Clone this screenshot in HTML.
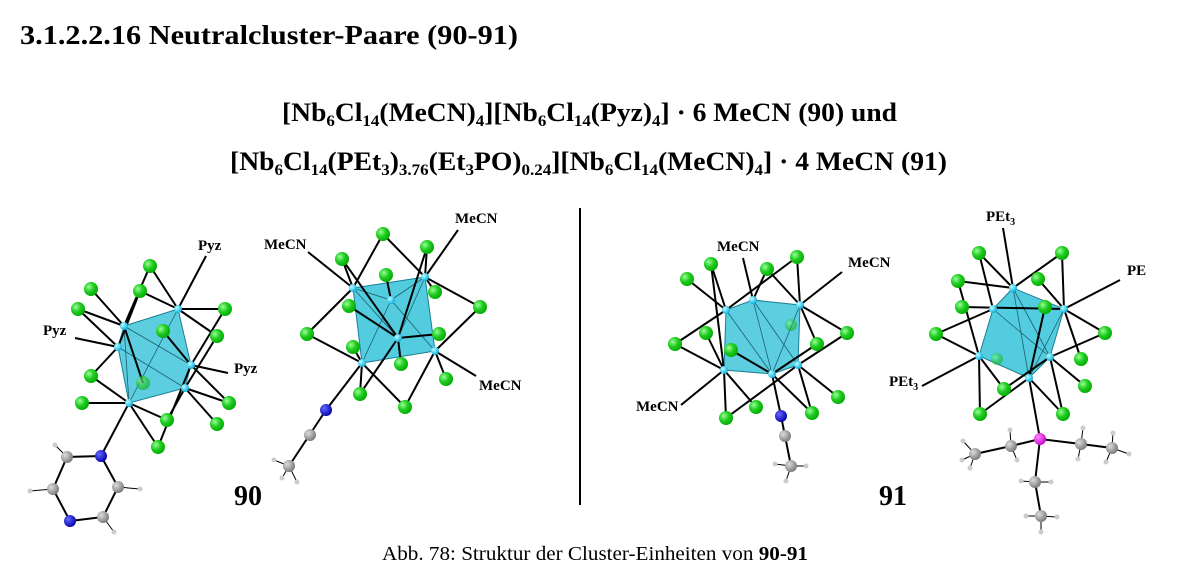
<!DOCTYPE html>
<html><head><meta charset="utf-8"><style>
html,body{margin:0;padding:0;background:#fff;}
svg{display:block;font-family:"Liberation Serif",serif;}
</style></head><body>
<svg width="1177" height="571" viewBox="0 0 1177 571" xmlns="http://www.w3.org/2000/svg">
<defs>
<radialGradient id="g" cx="0.35" cy="0.35" r="0.7"><stop offset="0" stop-color="#9f9"/><stop offset="0.5" stop-color="#2c2"/><stop offset="1" stop-color="#0a0"/></radialGradient>
<radialGradient id="n" cx="0.35" cy="0.35" r="0.7"><stop offset="0" stop-color="#bff"/><stop offset="1" stop-color="#0ad"/></radialGradient>
<radialGradient id="b" cx="0.35" cy="0.35" r="0.7"><stop offset="0" stop-color="#66f"/><stop offset="1" stop-color="#00a"/></radialGradient>
<radialGradient id="c" cx="0.35" cy="0.35" r="0.7"><stop offset="0" stop-color="#ddd"/><stop offset="1" stop-color="#777"/></radialGradient>
<radialGradient id="m" cx="0.35" cy="0.35" r="0.7"><stop offset="0" stop-color="#f8f"/><stop offset="1" stop-color="#c0c"/></radialGradient>
</defs>

<text x="20" y="44" font-size="27" font-weight="bold" textLength="498" lengthAdjust="spacingAndGlyphs">3.1.2.2.16 Neutralcluster-Paare (90-91)</text>

<text x="282" y="121" font-size="26" font-weight="bold" textLength="615" lengthAdjust="spacingAndGlyphs">[Nb<tspan font-size="16" dy="5">6</tspan><tspan dy="-5">Cl</tspan><tspan font-size="16" dy="5">14</tspan><tspan dy="-5">(MeCN)</tspan><tspan font-size="16" dy="5">4</tspan><tspan dy="-5">][Nb</tspan><tspan font-size="16" dy="5">6</tspan><tspan dy="-5">Cl</tspan><tspan font-size="16" dy="5">14</tspan><tspan dy="-5">(Pyz)</tspan><tspan font-size="16" dy="5">4</tspan><tspan dy="-5">] · 6 MeCN (90) und</tspan></text>
<text x="230" y="170" font-size="26" font-weight="bold" textLength="717" lengthAdjust="spacingAndGlyphs">[Nb<tspan font-size="16" dy="5">6</tspan><tspan dy="-5">Cl</tspan><tspan font-size="16" dy="5">14</tspan><tspan dy="-5">(PEt</tspan><tspan font-size="16" dy="5">3</tspan><tspan dy="-5">)</tspan><tspan font-size="16" dy="5">3.76</tspan><tspan dy="-5">(Et</tspan><tspan font-size="16" dy="5">3</tspan><tspan dy="-5">PO)</tspan><tspan font-size="16" dy="5">0.24</tspan><tspan dy="-5">][Nb</tspan><tspan font-size="16" dy="5">6</tspan><tspan dy="-5">Cl</tspan><tspan font-size="16" dy="5">14</tspan><tspan dy="-5">(MeCN)</tspan><tspan font-size="16" dy="5">4</tspan><tspan dy="-5">] · 4 MeCN (91)</tspan></text>

<line x1="580" y1="208" x2="580" y2="505" stroke="#000" stroke-width="2"/>

<!-- Cluster 1 -->
<g stroke="#000" stroke-width="2">
<polygon points="124,326 178,309 191,365 185,388 129,403 118,347" fill="#3fc6da" fill-opacity="0.85" stroke="#1b7f95" stroke-width="1"/>
<g stroke="#1b6070" stroke-width="0.8"><line x1="124" y1="326" x2="191" y2="365"/><line x1="124" y1="326" x2="129" y2="403"/><line x1="178" y1="309" x2="129" y2="403"/><line x1="118" y1="347" x2="185" y2="388"/></g>
<line x1="150" y1="266" x2="124" y2="326"/><line x1="150" y1="266" x2="178" y2="309"/>
<line x1="91" y1="289" x2="124" y2="326"/><line x1="140" y1="291" x2="178" y2="309"/><line x1="140" y1="291" x2="118" y2="347"/>
<line x1="78" y1="309" x2="124" y2="326"/><line x1="78" y1="309" x2="118" y2="347"/>
<line x1="225" y1="309" x2="178" y2="309"/><line x1="225" y1="309" x2="191" y2="365"/>
<line x1="163" y1="331" x2="191" y2="365"/><line x1="217" y1="336" x2="178" y2="309"/><line x1="217" y1="336" x2="185" y2="388"/>
<line x1="91" y1="376" x2="118" y2="347"/><line x1="91" y1="376" x2="129" y2="403"/>
<line x1="82" y1="403" x2="129" y2="403"/><line x1="143" y1="383" x2="124" y2="326"/>
<line x1="229" y1="403" x2="185" y2="388"/><line x1="229" y1="403" x2="191" y2="365"/>
<line x1="167" y1="420" x2="129" y2="403"/><line x1="167" y1="420" x2="185" y2="388"/>
<line x1="217" y1="424" x2="185" y2="388"/><line x1="158" y1="447" x2="129" y2="403"/><line x1="158" y1="447" x2="191" y2="365"/>
<line x1="178" y1="309" x2="206" y2="256"/><line x1="118" y1="347" x2="75" y2="338"/><line x1="191" y1="365" x2="228" y2="373"/>
<line x1="129" y1="403" x2="101" y2="456"/>
<polyline points="101,456 67,457 53,489 70,521 103,517 118,487 101,456" fill="none"/>
<g stroke-width="1"><line x1="67" y1="457" x2="55" y2="445"/><line x1="53" y1="489" x2="30" y2="491"/><line x1="103" y1="517" x2="114" y2="532"/><line x1="118" y1="487" x2="140" y2="489"/></g>
</g>
<g fill="url(#g)">
<circle cx="150" cy="266" r="7"/><circle cx="91" cy="289" r="7"/><circle cx="140" cy="291" r="7"/><circle cx="78" cy="309" r="7"/><circle cx="225" cy="309" r="7"/><circle cx="163" cy="331" r="7"/><circle cx="217" cy="336" r="7"/><circle cx="91" cy="376" r="7"/><circle cx="82" cy="403" r="7"/><circle cx="143" cy="383" r="7" opacity="0.6"/><circle cx="229" cy="403" r="7"/><circle cx="167" cy="420" r="7"/><circle cx="217" cy="424" r="7"/><circle cx="158" cy="447" r="7"/>
</g>
<g fill="url(#n)"><circle cx="124" cy="326" r="4"/><circle cx="178" cy="309" r="4"/><circle cx="191" cy="365" r="4"/><circle cx="185" cy="388" r="4"/><circle cx="129" cy="403" r="4"/><circle cx="118" cy="347" r="4"/></g>
<circle cx="101" cy="456" r="6" fill="url(#b)"/><circle cx="70" cy="521" r="6" fill="url(#b)"/>
<g fill="url(#c)"><circle cx="67" cy="457" r="6"/><circle cx="53" cy="489" r="6"/><circle cx="103" cy="517" r="6"/><circle cx="118" cy="487" r="6"/></g>
<g fill="#ccc"><circle cx="55" cy="445" r="2.5"/><circle cx="30" cy="491" r="2.5"/><circle cx="114" cy="532" r="2.5"/><circle cx="140" cy="489" r="2.5"/></g>

<!-- Cluster 2 -->
<g stroke="#000" stroke-width="2">
<polygon points="353,288 425,277 435,351 362,363" fill="#3fc6da" fill-opacity="0.9" stroke="#1b7f95" stroke-width="1"/>
<g stroke="#1b6070" stroke-width="0.8"><line x1="353" y1="288" x2="398" y2="338"/><line x1="425" y1="277" x2="398" y2="338"/><line x1="391" y1="300" x2="362" y2="363"/><line x1="391" y1="300" x2="435" y2="351"/><line x1="353" y1="288" x2="391" y2="300"/><line x1="425" y1="277" x2="391" y2="300"/></g>
<line x1="383" y1="234" x2="353" y2="288"/><line x1="383" y1="234" x2="425" y2="277"/>
<line x1="427" y1="247" x2="425" y2="277"/><line x1="427" y1="247" x2="398" y2="338"/>
<line x1="342" y1="259" x2="353" y2="288"/><line x1="342" y1="259" x2="398" y2="338"/>
<line x1="386" y1="275" x2="391" y2="300"/><line x1="435" y1="292" x2="425" y2="277"/>
<line x1="480" y1="307" x2="425" y2="277"/><line x1="480" y1="307" x2="435" y2="351"/>
<line x1="349" y1="306" x2="398" y2="338"/><line x1="307" y1="334" x2="353" y2="288"/><line x1="307" y1="334" x2="362" y2="363"/>
<line x1="439" y1="334" x2="398" y2="338"/><line x1="353" y1="347" x2="362" y2="363"/><line x1="401" y1="364" x2="398" y2="338"/>
<line x1="446" y1="379" x2="435" y2="351"/><line x1="360" y1="394" x2="362" y2="363"/><line x1="360" y1="394" x2="398" y2="338"/>
<line x1="405" y1="407" x2="362" y2="363"/><line x1="405" y1="407" x2="435" y2="351"/>
<line x1="353" y1="288" x2="308" y2="252"/><line x1="425" y1="277" x2="458" y2="230"/><line x1="435" y1="351" x2="476" y2="376"/>
<line x1="362" y1="363" x2="326" y2="410"/><line x1="326" y1="410" x2="289" y2="466"/>
<g stroke-width="1"><line x1="289" y1="466" x2="274" y2="460"/><line x1="289" y1="466" x2="297" y2="482"/><line x1="289" y1="466" x2="282" y2="478"/></g>
</g>
<g fill="url(#g)">
<circle cx="383" cy="234" r="7"/><circle cx="427" cy="247" r="7"/><circle cx="342" cy="259" r="7"/><circle cx="386" cy="275" r="7"/><circle cx="435" cy="292" r="7"/><circle cx="480" cy="307" r="7"/><circle cx="349" cy="306" r="7"/><circle cx="307" cy="334" r="7"/><circle cx="439" cy="334" r="7"/><circle cx="353" cy="347" r="7"/><circle cx="401" cy="364" r="7"/><circle cx="446" cy="379" r="7"/><circle cx="360" cy="394" r="7"/><circle cx="405" cy="407" r="7"/>
</g>
<g fill="url(#n)"><circle cx="353" cy="288" r="4"/><circle cx="425" cy="277" r="4"/><circle cx="391" cy="300" r="4"/><circle cx="398" cy="338" r="4"/><circle cx="435" cy="351" r="4"/><circle cx="362" cy="363" r="4"/></g>
<circle cx="326" cy="410" r="6" fill="url(#b)"/><circle cx="310" cy="435" r="6" fill="url(#c)"/><circle cx="289" cy="466" r="6" fill="url(#c)"/>
<g fill="#ccc"><circle cx="274" cy="460" r="2.5"/><circle cx="297" cy="482" r="2.5"/><circle cx="282" cy="478" r="2.5"/></g>

<!-- Cluster 3 -->
<g stroke="#000" stroke-width="2">
<polygon points="726,310 753,300 800,305 798,365 772,374 724,370" fill="#3fc6da" fill-opacity="0.85" stroke="#1b7f95" stroke-width="1"/>
<g stroke="#1b6070" stroke-width="0.8"><line x1="726" y1="310" x2="772" y2="374"/><line x1="753" y1="300" x2="772" y2="374"/><line x1="753" y1="300" x2="798" y2="365"/><line x1="800" y1="305" x2="772" y2="374"/></g>
<line x1="687" y1="279" x2="726" y2="310"/><line x1="711" y1="264" x2="726" y2="310"/><line x1="711" y1="264" x2="724" y2="370"/>
<line x1="767" y1="269" x2="753" y2="300"/><line x1="767" y1="269" x2="800" y2="305"/><line x1="797" y1="257" x2="800" y2="305"/><line x1="797" y1="257" x2="726" y2="310"/>
<line x1="675" y1="344" x2="726" y2="310"/><line x1="675" y1="344" x2="724" y2="370"/><line x1="706" y1="333" x2="724" y2="370"/>
<line x1="731" y1="350" x2="772" y2="374"/><line x1="817" y1="344" x2="800" y2="305"/><line x1="817" y1="344" x2="772" y2="374"/>
<line x1="847" y1="333" x2="800" y2="305"/><line x1="847" y1="333" x2="798" y2="365"/>
<line x1="756" y1="407" x2="724" y2="370"/><line x1="726" y1="418" x2="724" y2="370"/><line x1="726" y1="418" x2="798" y2="365"/>
<line x1="812" y1="413" x2="798" y2="365"/><line x1="812" y1="413" x2="772" y2="374"/><line x1="838" y1="397" x2="798" y2="365"/>
<line x1="753" y1="300" x2="743" y2="258"/><line x1="800" y1="305" x2="842" y2="272"/><line x1="724" y1="370" x2="681" y2="405"/>
<line x1="772" y1="374" x2="781" y2="416"/><line x1="781" y1="416" x2="791" y2="466"/>
<g stroke-width="1"><line x1="791" y1="466" x2="775" y2="464"/><line x1="791" y1="466" x2="806" y2="466"/><line x1="791" y1="466" x2="786" y2="481"/></g>
</g>
<g fill="url(#g)">
<circle cx="687" cy="279" r="7"/><circle cx="711" cy="264" r="7"/><circle cx="767" cy="269" r="7"/><circle cx="797" cy="257" r="7"/><circle cx="675" cy="344" r="7"/><circle cx="706" cy="333" r="7"/><circle cx="731" cy="350" r="7"/><circle cx="817" cy="344" r="7"/><circle cx="847" cy="333" r="7"/><circle cx="756" cy="407" r="7"/><circle cx="726" cy="418" r="7"/><circle cx="812" cy="413" r="7"/><circle cx="838" cy="397" r="7"/><circle cx="791" cy="325" r="6" opacity="0.5"/>
</g>
<g fill="url(#n)"><circle cx="726" cy="310" r="4"/><circle cx="753" cy="300" r="4"/><circle cx="800" cy="305" r="4"/><circle cx="724" cy="370" r="4"/><circle cx="772" cy="374" r="4"/><circle cx="798" cy="365" r="4"/></g>
<circle cx="781" cy="416" r="6" fill="url(#b)"/><circle cx="785" cy="436" r="6" fill="url(#c)"/><circle cx="791" cy="466" r="6" fill="url(#c)"/>
<g fill="#ccc"><circle cx="775" cy="464" r="2.5"/><circle cx="806" cy="466" r="2.5"/><circle cx="786" cy="481" r="2.5"/></g>

<!-- Cluster 4 -->
<g stroke="#000" stroke-width="2">
<polygon points="1013,288 1064,309 1050,357 1029,378 979,356 993,309" fill="#3fc6da" fill-opacity="0.9" stroke="#1b7f95" stroke-width="1"/>
<g stroke="#1b6070" stroke-width="0.8"><line x1="1013" y1="288" x2="1050" y2="357"/><line x1="993" y1="309" x2="1050" y2="357"/><line x1="1064" y1="309" x2="1029" y2="378"/><line x1="1013" y1="288" x2="1029" y2="378"/></g>
<line x1="979" y1="253" x2="993" y2="309"/><line x1="979" y1="253" x2="1013" y2="288"/>
<line x1="1062" y1="253" x2="1064" y2="309"/><line x1="1062" y1="253" x2="1013" y2="288"/>
<line x1="958" y1="281" x2="1013" y2="288"/><line x1="958" y1="281" x2="979" y2="356"/>
<line x1="1038" y1="279" x2="1064" y2="309"/><line x1="962" y1="307" x2="1064" y2="309"/><line x1="1045" y1="307" x2="1029" y2="378"/>
<line x1="936" y1="334" x2="993" y2="309"/><line x1="936" y1="334" x2="979" y2="356"/>
<line x1="1105" y1="333" x2="1064" y2="309"/><line x1="1105" y1="333" x2="1050" y2="357"/>
<line x1="1081" y1="359" x2="1064" y2="309"/><line x1="1004" y1="389" x2="979" y2="356"/><line x1="1004" y1="389" x2="1050" y2="357"/>
<line x1="1085" y1="386" x2="1050" y2="357"/><line x1="980" y1="414" x2="979" y2="356"/><line x1="980" y1="414" x2="1029" y2="378"/>
<line x1="1063" y1="414" x2="1050" y2="357"/><line x1="1063" y1="414" x2="1029" y2="378"/>
<line x1="1013" y1="288" x2="1003" y2="228"/><line x1="1064" y1="309" x2="1120" y2="280"/><line x1="979" y1="356" x2="922" y2="386"/>
<line x1="1029" y1="378" x2="1040" y2="439"/>
<polyline points="975,454 1011,446 1040,439 1081,444 1112,448" fill="none"/>
<polyline points="1040,439 1035,482 1041,516" fill="none"/>
<g stroke-width="1"><line x1="975" y1="454" x2="963" y2="441"/><line x1="975" y1="454" x2="962" y2="460"/><line x1="975" y1="454" x2="970" y2="468"/><line x1="1011" y1="446" x2="1010" y2="430"/><line x1="1011" y1="446" x2="1017" y2="460"/><line x1="1081" y1="444" x2="1083" y2="428"/><line x1="1081" y1="444" x2="1078" y2="459"/><line x1="1112" y1="448" x2="1113" y2="433"/><line x1="1112" y1="448" x2="1129" y2="454"/><line x1="1112" y1="448" x2="1106" y2="462"/><line x1="1035" y1="482" x2="1021" y2="481"/><line x1="1035" y1="482" x2="1051" y2="482"/><line x1="1041" y1="516" x2="1026" y2="516"/><line x1="1041" y1="516" x2="1057" y2="517"/><line x1="1041" y1="516" x2="1041" y2="532"/></g>
</g>
<g fill="url(#g)">
<circle cx="979" cy="253" r="7"/><circle cx="1062" cy="253" r="7"/><circle cx="958" cy="281" r="7"/><circle cx="1038" cy="279" r="7"/><circle cx="962" cy="307" r="7"/><circle cx="1045" cy="307" r="7"/><circle cx="936" cy="334" r="7"/><circle cx="1105" cy="333" r="7"/><circle cx="997" cy="359" r="6" opacity="0.5"/><circle cx="1081" cy="359" r="7"/><circle cx="1004" cy="389" r="7"/><circle cx="1085" cy="386" r="7"/><circle cx="980" cy="414" r="7"/><circle cx="1063" cy="414" r="7"/>
</g>
<g fill="url(#n)"><circle cx="1013" cy="288" r="4"/><circle cx="993" cy="309" r="4"/><circle cx="1064" cy="309" r="4"/><circle cx="979" cy="356" r="4"/><circle cx="1050" cy="357" r="4"/><circle cx="1029" cy="378" r="4"/></g>
<circle cx="1040" cy="439" r="6" fill="url(#m)"/>
<g fill="url(#c)"><circle cx="975" cy="454" r="6"/><circle cx="1011" cy="446" r="6"/><circle cx="1081" cy="444" r="6"/><circle cx="1112" cy="448" r="6"/><circle cx="1035" cy="482" r="6"/><circle cx="1041" cy="516" r="6"/></g>
<g fill="#ccc"><circle cx="963" cy="441" r="2.5"/><circle cx="962" cy="460" r="2.5"/><circle cx="970" cy="468" r="2.5"/><circle cx="1010" cy="430" r="2.5"/><circle cx="1017" cy="460" r="2.5"/><circle cx="1083" cy="428" r="2.5"/><circle cx="1078" cy="459" r="2.5"/><circle cx="1113" cy="433" r="2.5"/><circle cx="1129" cy="454" r="2.5"/><circle cx="1106" cy="462" r="2.5"/><circle cx="1021" cy="481" r="2.5"/><circle cx="1051" cy="482" r="2.5"/><circle cx="1026" cy="516" r="2.5"/><circle cx="1057" cy="517" r="2.5"/><circle cx="1041" cy="532" r="2.5"/></g>

<!-- labels -->
<g font-size="15" font-weight="bold">
<text x="198" y="250">Pyz</text>
<text x="43" y="335">Pyz</text>
<text x="234" y="373">Pyz</text>
<text x="264" y="249">MeCN</text>
<text x="455" y="223">MeCN</text>
<text x="479" y="390">MeCN</text>
<text x="717" y="251">MeCN</text>
<text x="848" y="267">MeCN</text>
<text x="636" y="411">MeCN</text>
<text x="986" y="221">PEt<tspan font-size="10" dy="4">3</tspan></text>
<text x="1127" y="275">PE</text>
<text x="889" y="386">PEt<tspan font-size="10" dy="4">3</tspan></text>
</g>
<text x="234" y="505" font-size="28" font-weight="bold">90</text>
<text x="879" y="505" font-size="28" font-weight="bold">91</text>
<text x="382" y="560" font-size="20" textLength="426" lengthAdjust="spacingAndGlyphs">Abb. 78: Struktur der Cluster-Einheiten von <tspan font-weight="bold">90-91</tspan></text>
</svg>
</body></html>
